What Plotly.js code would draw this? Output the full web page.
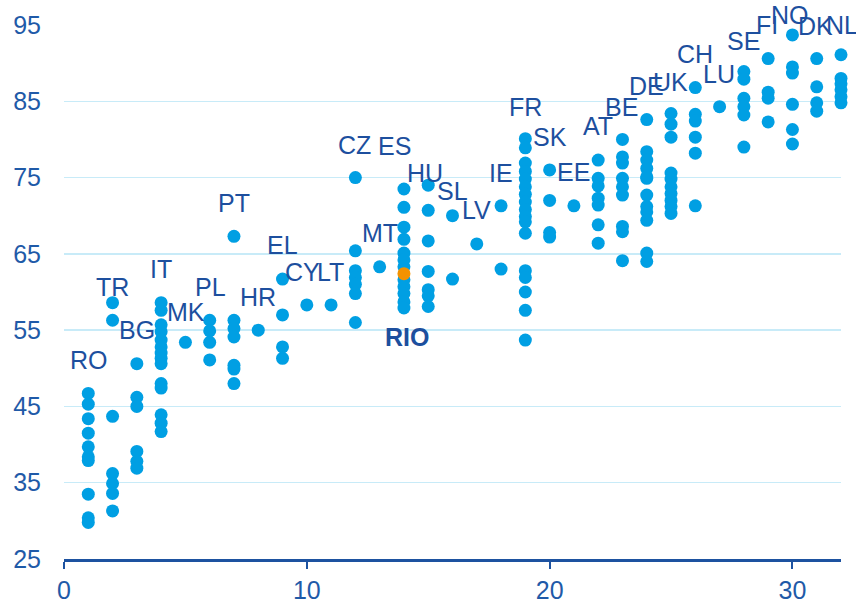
<!DOCTYPE html>
<html>
<head>
<meta charset="utf-8">
<script src="https://cdn.plot.ly/plotly-3.0.1.min.js"></script>
<style>html,body{margin:0;padding:0;background:#fff;}#chart{width:856px;height:600px;}</style>
</head>
<body>
<div id="chart"></div>
<script>
// Country codes and their rank position on the x axis
const countries = ['RO','TR','BG','IT','MK','PL','PT','HR','EL','CY','LT','CZ','MT','ES','HU','SL','LV','IE','FR','SK','EE','AT','BE','DE','UK','CH','LU','SE','FI','NO','DK','NL'];
const ranks = [1,2,3,4,5,6,7,8,9,10,11,12,13,14,15,16,17,18,19,20,21,22,23,24,25,26,27,28,29,30,31,32];
// Regional scores per country
const regionScores = [
  [46.7,45.3,43.4,41.5,39.7,38.4,37.9,33.5,30.4,29.8],
  [58.6,56.3,43.7,36.2,34.9,33.6,31.3],
  [50.6,46.2,45.0,39.1,37.8,36.9],
  [58.6,57.6,55.7,54.8,53.7,52.8,52.0,51.3,50.6,48.0,47.4,43.9,42.8,41.7],
  [53.4],
  [56.3,54.9,53.4,51.1],
  [67.3,56.3,55.2,54.1,50.4,49.9,48.0],
  [55.0],
  [61.7,57.0,52.8,51.3],
  [58.3],
  [58.3],
  [75.0,65.4,62.8,61.9,61.0,59.8,56.0],
  [63.3],
  [73.5,71.1,68.5,66.9,65.1,64.2,63.3,61.6,60.7,59.8,58.7,57.9],
  [74.0,70.7,66.7,62.7,60.3,59.5,58.1],
  [70.0,61.7],
  [66.3],
  [71.3,63.0],
  [80.1,78.9,76.9,75.8,74.8,73.8,72.8,71.8,70.8,69.9,69.2,67.7,62.8,61.9,60.0,57.6,53.7],
  [76.0,72.0,67.8,67.2],
  [71.3],
  [77.3,74.9,73.9,72.3,71.4,68.8,66.4],
  [80.0,77.7,76.9,74.9,73.8,72.7,68.6,67.9,64.1],
  [82.6,78.4,77.3,76.2,75.1,74.9,72.7,71.2,70.5,69.4,65.1,64.0],
  [83.4,82.0,80.3,75.6,74.8,73.8,72.9,72.0,71.2,70.3],
  [86.8,83.3,82.4,80.3,78.2,71.3],
  [84.3],
  [88.9,87.9,85.4,84.3,83.2,79.0],
  [90.6,86.2,85.4,82.3],
  [93.7,89.5,88.7,84.6,81.3,79.4],
  [90.6,86.9,84.8,83.7],
  [91.1,88.0,87.3,86.5,85.6,84.8]
];
// Highlighted region
const rioLabel = 'RIO';
const rioX = [14];
const rioY = [62.4];
// Label anchor points in data units
const labelX = [1.03,2.0,3.0,4.0,5.02,6.05,7.0,8.0,9.0,9.84,10.96,11.98,13.0,13.6,14.87,15.98,17.0,18.0,18.99,20.0,21.0,22.0,22.98,23.97,24.96,25.99,26.98,27.97,28.95,29.9,30.97,32.04];
const labelY = [51.1,60.6,55.0,63.0,57.4,60.6,71.7,59.3,66.2,62.6,62.6,79.3,67.7,79.1,75.6,73.2,70.7,75.6,84.2,80.3,75.7,81.7,84.2,87.0,87.5,91.2,88.6,92.9,95.0,96.3,94.9,95.0];
const rioLabelX = 14.13, rioLabelY = 54.1;
const xTicks = [0,10,20,30];
const yTicks = [25,35,45,55,65,75,85,95];

const X_RANGE = [0, 32], Y_RANGE = [25, 95];
const PLOT_W = 856 - 64 - 15, PLOT_H = 600 - 25 - 41;

const xs = [], ys = [];
regionScores.forEach((arr, i) => arr.forEach(v => { xs.push(ranks[i]); ys.push(v); }));

const FONT = 'Liberation Sans, Arial, sans-serif';
const tickColor = '#1f5aa8';
const labelColor = '#1d4f9e';

const traces = [
  {x: xs, y: ys, type: 'scatter', mode: 'markers', cliponaxis: false,
   marker: {color: '#009fe3', size: 13, line: {width: 0}}, hoverinfo: 'x+y'},
  {x: rioX, y: rioY, type: 'scatter', mode: 'markers', cliponaxis: false,
   marker: {color: '#f39200', size: 13, line: {width: 0}}}
];

// Annotations outside the axis range are hidden by Plotly, so clamp and shift in pixels
function makeLabel(text, lx, ly) {
  const cx = Math.min(Math.max(lx, X_RANGE[0]), X_RANGE[1]);
  const cy = Math.min(Math.max(ly, Y_RANGE[0]), Y_RANGE[1]);
  const xshift = (lx - cx) * PLOT_W / (X_RANGE[1] - X_RANGE[0]);
  const yshift = (ly - cy) * PLOT_H / (Y_RANGE[1] - Y_RANGE[0]);
  return {x: cx, y: cy, xref: 'x', yref: 'y', text: text, showarrow: false, xshift: xshift, yshift: yshift,
    xanchor: 'center', yanchor: 'middle', font: {family: FONT, size: 25, color: labelColor}};
}
const annotations = countries.map((c, i) => makeLabel(c, labelX[i], labelY[i]));
annotations.push(makeLabel('<b>' + rioLabel + '</b>', rioLabelX, rioLabelY));

const layout = {
  width: 856, height: 600,
  margin: {l: 64, r: 15, t: 25, b: 41, pad: 0},
  paper_bgcolor: '#ffffff', plot_bgcolor: '#ffffff',
  showlegend: false,
  font: {family: FONT, size: 25, color: tickColor},
  xaxis: {range: X_RANGE, tickvals: xTicks, ticktext: xTicks.map(String), showgrid: false, zeroline: false,
    showline: true, linecolor: '#1d52a0', linewidth: 3, ticks: 'outside', ticklen: 7, tickwidth: 2, tickcolor: '#1d52a0',
    tickfont: {family: FONT, size: 25, color: tickColor}, ticklabelstandoff: 0, fixedrange: true},
  yaxis: {range: Y_RANGE, tickvals: yTicks, ticktext: yTicks.map(String), showgrid: true, gridcolor: '#c8ebf8', gridwidth: 1.5,
    zeroline: false, showline: false, ticks: '', tickfont: {family: FONT, size: 25, color: tickColor}, ticklabelstandoff: 22, fixedrange: true},
  annotations: annotations
};

Plotly.newPlot('chart', traces, layout, {displayModeBar: false, staticPlot: true});
</script>
</body>
</html>
